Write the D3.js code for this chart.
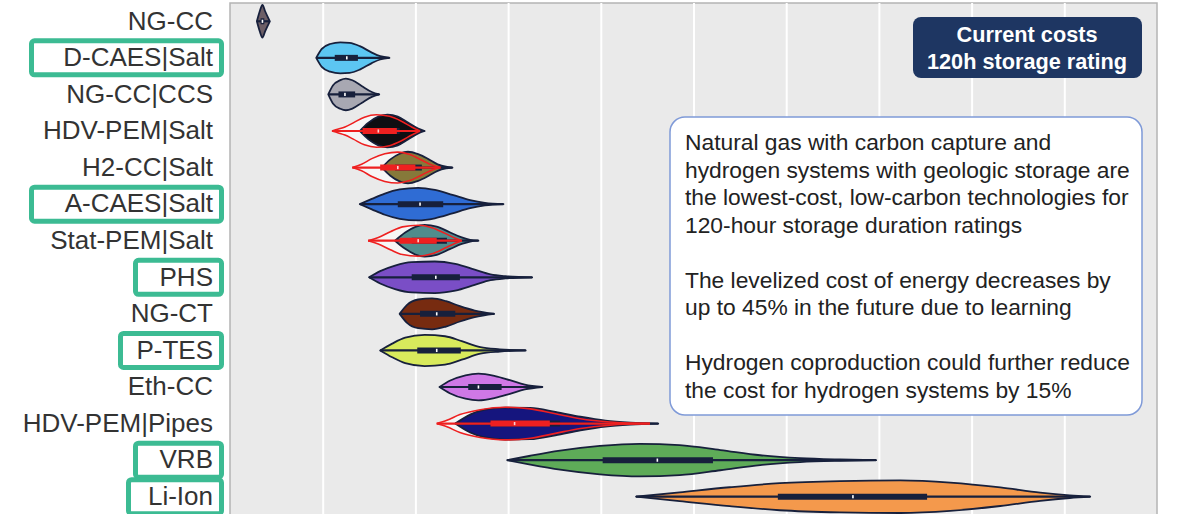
<!DOCTYPE html>
<html>
<head>
<meta charset="utf-8">
<script src="https://cdn.jsdelivr.net/npm/d3@7"></script>
<style>
  html, body { margin: 0; padding: 0; background: #ffffff; }
  svg { display: block; font-family: "Liberation Sans", Arial, sans-serif; }
</style>
</head>
<body>
<svg id="chart" width="1186" height="514"></svg>
<script>
// Levelized cost distributions per technology (current costs, 120 h storage rating)
const categories = [
  "NG-CC", "D-CAES|Salt", "NG-CC|CCS", "HDV-PEM|Salt", "H2-CC|Salt",
  "A-CAES|Salt", "Stat-PEM|Salt", "PHS", "NG-CT", "P-TES",
  "Eth-CC", "HDV-PEM|Pipes", "VRB", "Li-Ion"
];

// Density profile of each violin: cost values and relative density at those values
const profileValues = [
  [29, 32, 35, 38, 43],
  [93, 99, 108, 119, 129, 140, 153, 162, 172],
  [106, 111, 119, 125, 132, 142, 153, 161],
  [140, 149, 160, 170, 181, 192, 203, 210],
  [164, 173, 183, 192, 203, 214, 224, 233, 240],
  [140, 153, 167, 183, 203, 221, 240, 259, 275, 295],
  [178, 189, 200, 210, 223, 237, 250, 259, 268],
  [150, 162, 178, 196, 221, 243, 264, 281, 297, 326],
  [183, 191, 203, 218, 233, 248, 264, 285],
  [162, 175, 189, 210, 232, 250, 270, 291, 319],
  [226, 237, 254, 268, 286, 302, 318, 337],
  [243, 259, 275, 297, 324, 351, 378, 405, 432, 462],
  [299, 324, 356, 399, 442, 485, 529, 572, 615, 658, 697],
  [438, 485, 539, 593, 658, 723, 777, 831, 874, 906, 928]
];
const profileDensity = [
  [0, 0.6, 1.0, 0.6, 0],
  [0, 0.55, 0.85, 0.95, 0.92, 0.72, 0.32, 0.1, 0],
  [0, 0.55, 0.88, 0.97, 0.87, 0.52, 0.15, 0],
  [0, 0.5, 0.88, 1.0, 0.88, 0.52, 0.15, 0],
  [0, 0.5, 0.85, 0.97, 0.82, 0.52, 0.2, 0.05, 0],
  [0, 0.32, 0.65, 0.9, 1.0, 0.87, 0.57, 0.25, 0.08, 0],
  [0, 0.5, 0.85, 0.97, 0.87, 0.52, 0.2, 0.05, 0],
  [0, 0.38, 0.72, 0.93, 0.97, 0.82, 0.47, 0.18, 0.07, 0],
  [0, 0.55, 0.88, 0.95, 0.78, 0.47, 0.2, 0],
  [0, 0.42, 0.78, 0.96, 0.87, 0.57, 0.2, 0.07, 0],
  [0, 0.38, 0.72, 0.82, 0.67, 0.42, 0.15, 0],
  [0, 0.55, 0.85, 0.98, 0.96, 0.72, 0.42, 0.18, 0.06, 0],
  [0, 0.27, 0.58, 0.87, 1.0, 0.92, 0.62, 0.3, 0.12, 0.04, 0],
  [0, 0.27, 0.58, 0.83, 0.96, 1.0, 0.87, 0.57, 0.25, 0.08, 0]
];
// Box statistics: [min, q1, median, q3, max]
const boxStats = [
  [29, 33, 35, 37, 43],
  [93, 113, 126, 138, 172],
  [106, 117, 124, 135, 161],
  [140, 153, 167, 183, 210],
  [164, 178, 194, 207, 240],
  [140, 181, 205, 230, 295],
  [178, 196, 214, 234, 268],
  [150, 196, 222, 248, 326],
  [183, 205, 223, 243, 285],
  [162, 202, 223, 249, 319],
  [226, 257, 268, 293, 337],
  [243, 281, 313, 356, 462],
  [299, 402, 461, 521, 697],
  [438, 591, 672, 752, 928]
];

// Hydrogen systems with coproduction (red outline overlays)
const coprodRows = ["HDV-PEM|Salt", "H2-CC|Salt", "Stat-PEM|Salt", "HDV-PEM|Pipes"];
const coprodValues = [
  [110, 117, 124, 133, 145, 158, 172, 185, 196, 205],
  [132, 142, 153, 167, 181, 194, 207, 218, 227],
  [149, 160, 173, 186, 203, 218, 232, 243, 250],
  [223, 234, 248, 270, 297, 324, 351, 378, 410, 453]
];
const coprodDensity = [
  [0, 0.12, 0.25, 0.5, 0.85, 1.0, 0.9, 0.6, 0.25, 0],
  [0, 0.2, 0.55, 0.85, 0.95, 0.8, 0.45, 0.15, 0],
  [0, 0.2, 0.55, 0.85, 0.95, 0.8, 0.45, 0.15, 0],
  [0, 0.2, 0.55, 0.85, 1.0, 0.9, 0.6, 0.3, 0.1, 0]
];
const coprodBox = [
  [110, 143, 160, 180, 205],
  [132, 162, 181, 200, 227],
  [149, 183, 203, 223, 250],
  [223, 281, 307, 345, 453]
];

const highlighted = ["D-CAES|Salt", "A-CAES|Salt", "PHS", "P-TES", "VRB", "Li-Ion"];

const fillColors = [
  "#6c5e66", "#5cc6f2", "#a8a8b2", "#0e0e12", "#86793a",
  "#2f6cd4", "#4f8c8c", "#7a4ec6", "#772b10", "#d8ea5c",
  "#cf78e6", "#15157e", "#5eab58", "#f4994c"
];

const titleLines = ["Current costs", "120h storage rating"];
const noteLines = [
  "Natural gas with carbon capture and",
  "hydrogen systems with geologic storage are",
  "the lowest-cost, low-carbon technologies for",
  "120-hour storage duration ratings",
  "",
  "The levelized cost of energy decreases by",
  "up to 45% in the future due to learning",
  "",
  "Hydrogen coproduction could further reduce",
  "the cost for hydrogen systems by 15%"
];

// ---- layout ----
const plot = { left: 230, right: 1157, top: 3, bottom: 515 };
const svg = d3.select("#chart");

const x = d3.scaleLinear().domain([0, 1000]).range([plot.left, plot.right]);
const y = d3.scaleBand().domain(categories).range([plot.top, plot.bottom]).padding(0);
const w = d3.scaleLinear().domain([0, 1]).range([0, 16.3]);
const cy = c => y(c) + y.bandwidth() / 2;

// plot background
svg.append("rect")
  .attr("x", plot.left).attr("y", plot.top)
  .attr("width", plot.right - plot.left).attr("height", plot.bottom - plot.top)
  .attr("fill", "#eaeaea").attr("stroke", "#b4b4b4").attr("stroke-width", 1.5);

// vertical gridlines
const grid = svg.append("g")
  .attr("transform", `translate(0,${plot.bottom})`)
  .call(d3.axisBottom(x).tickValues(d3.range(100, 1000, 100))
    .tickSize(-(plot.bottom - plot.top)).tickFormat(""));
grid.select(".domain").remove();
grid.selectAll(".tick line").attr("stroke", "#ffffff").attr("stroke-width", 2);

// category labels
const yAxis = svg.append("g")
  .attr("transform", `translate(${plot.left},0)`)
  .call(d3.axisLeft(y).tickSize(0).tickPadding(17));
yAxis.select(".domain").remove();
yAxis.selectAll(".tick text")
  .attr("font-size", 26).attr("fill", "#333333")
  .attr("font-family", "'Liberation Sans', Arial, sans-serif");

// highlight frames around selected labels
const frameWidth = { "D-CAES|Salt": 190, "A-CAES|Salt": 190, "PHS": 86, "P-TES": 101, "VRB": 86, "Li-Ion": 93 };
highlighted.forEach(c => {
  const fw = frameWidth[c];
  svg.append("rect")
    .attr("x", 221.5 - fw).attr("y", cy(c) - 17)
    .attr("width", fw).attr("height", 34)
    .attr("rx", 3)
    .attr("fill", "none").attr("stroke", "#3cbb93").attr("stroke-width", 5);
});

const violinArea = (center) => d3.area()
  .x(d => x(d[0]))
  .y0(d => center - w(d[1]))
  .y1(d => center + w(d[1]))
  .curve(d3.curveMonotoneX);

const violinLine = (center, side) => d3.line()
  .x(d => x(d[0]))
  .y(d => center + side * w(d[1]))
  .curve(d3.curveMonotoneX);

const dark = "#17203c";
const red = "#ee2020";

function drawBox(g, center, stats, color, medianColor) {
  g.append("line")
    .attr("x1", x(stats[0])).attr("x2", x(stats[4]))
    .attr("y1", center).attr("y2", center)
    .attr("stroke", color).attr("stroke-width", 2.2);
  g.append("line")
    .attr("x1", x(stats[1])).attr("x2", x(stats[3]))
    .attr("y1", center).attr("y2", center)
    .attr("stroke", color).attr("stroke-width", 6);
  g.append("rect")
    .attr("x", x(stats[2]) - 0.8).attr("y", center - 1.6)
    .attr("width", 1.6).attr("height", 3.2)
    .attr("fill", medianColor);
}

const g = svg.append("g");

categories.forEach((c, i) => {
  const center = cy(c);
  const pts = d3.zip(profileValues[i], profileDensity[i]);
  const k = coprodRows.indexOf(c);
  let cpts = null;
  if (k >= 0) {
    cpts = d3.zip(coprodValues[k], coprodDensity[k]);
    g.append("path").datum(cpts)
      .attr("d", violinArea(center))
      .attr("fill", "#ffffff").attr("fill-opacity", 0.55);
  }
  g.append("path").datum(pts)
    .attr("d", violinArea(center))
    .attr("fill", fillColors[i])
    .attr("stroke", dark).attr("stroke-width", 1.8).attr("stroke-linejoin", "round");
  drawBox(g, center, boxStats[i], dark, "#ffffff");
  if (k >= 0) {
    [-1, 1].forEach(side => {
      g.append("path").datum(cpts)
        .attr("d", violinLine(center, side))
        .attr("fill", "none").attr("stroke", red).attr("stroke-width", 1.6);
    });
    drawBox(g, center, coprodBox[k], red, "#ffd0d0");
  }
});

// title badge
const badge = svg.append("g");
badge.append("rect")
  .attr("x", 913).attr("y", 17).attr("width", 229).attr("height", 61)
  .attr("rx", 8).attr("fill", "#1e3662");
badge.selectAll("text").data(titleLines).join("text")
  .attr("x", 1027).attr("y", (d, i) => 42 + i * 27)
  .attr("text-anchor", "middle")
  .attr("font-size", 21.7).attr("font-weight", "bold").attr("fill", "#ffffff")
  .text(d => d);

// annotation box
const note = svg.append("g");
note.append("rect")
  .attr("x", 670).attr("y", 117).attr("width", 472).attr("height", 298)
  .attr("rx", 15).attr("fill", "#ffffff")
  .attr("stroke", "#7f9ad8").attr("stroke-width", 1.5);
note.selectAll("text").data(noteLines).join("text")
  .attr("x", 685).attr("y", (d, i) => 150 + i * 27.5)
  .attr("font-size", 22.8).attr("fill", "#222222")
  .text(d => d);
</script>
</body>
</html>
